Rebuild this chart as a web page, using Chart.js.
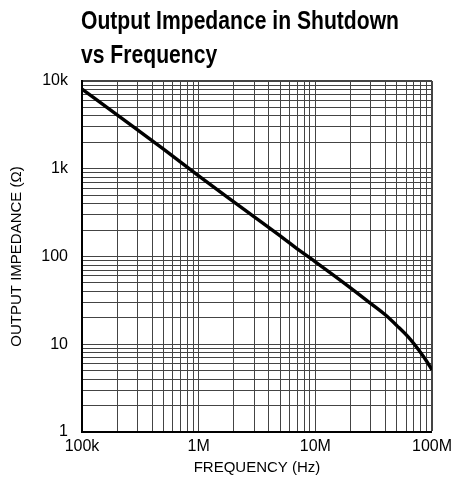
<!DOCTYPE html>
<html>
<head>
<meta charset="utf-8">
<script src="https://cdn.jsdelivr.net/npm/chart.js@4"></script>
<style>
  body { margin: 0; background: #fff; }
  #wrap { position: relative; width: 457px; height: 494px; }
  #title {
    position: absolute; left: 81px; top: 3px;
    font-family: "Liberation Sans", Arial, sans-serif;
    font-weight: bold; font-size: 25px; line-height: 34px; color: #000;
    white-space: nowrap; transform-origin: 0 0;
  }
  canvas { position: absolute; left: 0; top: 0; }
</style>
</head>
<body>
<div id="wrap">
  <canvas id="chart" width="457" height="494"></canvas>
  <div id="title"><span id="t1">Output Impedance in Shutdown</span><br>vs Frequency</div>
</div>
<script>
// curve (Hz, ohms)
const frequency = [1e5, 2e5, 5e5, 1e6, 2e6, 5e6, 7.2e6, 1e7, 2e7, 3e7, 4e7, 5e7, 6.25e7, 8.07e7, 9e7, 1e8];
const impedance = [8100, 4110, 1673, 830, 420, 172, 119, 87, 44, 29, 21.5, 16.3, 12.1, 7.9, 6.4, 5.1];

const xDecades = [1e5, 1e6, 1e7, 1e8];
const xDecadeLabels = ["100k", "1M", "10M", "100M"];
const yDecades = [1, 10, 100, 1000, 10000];
const yDecadeLabels = ["1", "10", "100", "1k", "10k"];

// squeeze the bold title to look like a condensed face
let t1 = document.getElementById('t1');
document.getElementById('title').style.transform = 'scaleX(' + (318 / t1.getBoundingClientRect().width) + ')';

function logTicks(decades){
    let ticks = [];
    for (let i = 0; i < decades.length - 1; i++){
        for (let m = 1; m < 10; m++){
            ticks.push({value: decades[i] * m});
        }
    }
    ticks.push({value: decades[decades.length - 1]});
    return ticks;
}

function decadeLabel(decades, labels, v){
    for (let i = 0; i < decades.length; i++){
        if (Math.abs(v - decades[i]) < decades[i] * 1e-6) return labels[i];
    }
    return "";
}

const tickFont = {family: "'Liberation Sans', Arial, sans-serif", size: 16};
const titleFont = {family: "'Liberation Sans', Arial, sans-serif", size: 15};

function edgeWidth(max){
    return function(c){
        if (!c.tick) return 1;
        return (Math.abs(c.tick.value - max) < max * 1e-6) ? 2 : 1;
    };
}

const points = frequency.map((f, i) => ({x: f, y: impedance[i]}));

new Chart(document.getElementById('chart').getContext('2d'), {
    type: 'line',
    data: {
        datasets: [{
            data: points,
            borderColor: '#000',
            borderWidth: 3.4,
            pointRadius: 0,
            fill: false,
            cubicInterpolationMode: 'monotone'
        }]
    },
    options: {
        responsive: false,
        animation: false,
        layout: {padding: {top: 81, right: 23, bottom: 0, left: 0}},
        plugins: {legend: {display: false}, tooltip: {enabled: false}},
        scales: {
            x: {
                type: 'logarithmic',
                min: 1e5, max: 1e8,
                afterBuildTicks: s => { s.ticks = logTicks(xDecades); },
                afterFit: s => { s.height = 62; },
                grid: {color: '#444', lineWidth: edgeWidth(1e8), drawTicks: false},
                border: {color: '#000', width: 2},
                ticks: {
                    autoSkip: false, maxRotation: 0, padding: 5, color: '#000', font: tickFont,
                    callback: v => decadeLabel(xDecades, xDecadeLabels, v)
                },
                title: {display: true, text: 'FREQUENCY (Hz)', color: '#000', font: titleFont, padding: {top: 0, bottom: 17}}
            },
            y: {
                type: 'logarithmic',
                min: 1, max: 1e4,
                afterBuildTicks: s => { s.ticks = logTicks(yDecades); },
                afterFit: s => { s.width = 82; },
                grid: {color: '#444', lineWidth: edgeWidth(1e4), drawTicks: false},
                border: {color: '#000', width: 2},
                ticks: {
                    autoSkip: false, padding: 14, color: '#000', font: tickFont,
                    callback: v => decadeLabel(yDecades, yDecadeLabels, v)
                },
                title: {display: true, text: 'OUTPUT IMPEDANCE (Ω)', color: '#000', font: titleFont, padding: {top: 8, bottom: 0}}
            }
        }
    }
});
</script>
</body>
</html>
